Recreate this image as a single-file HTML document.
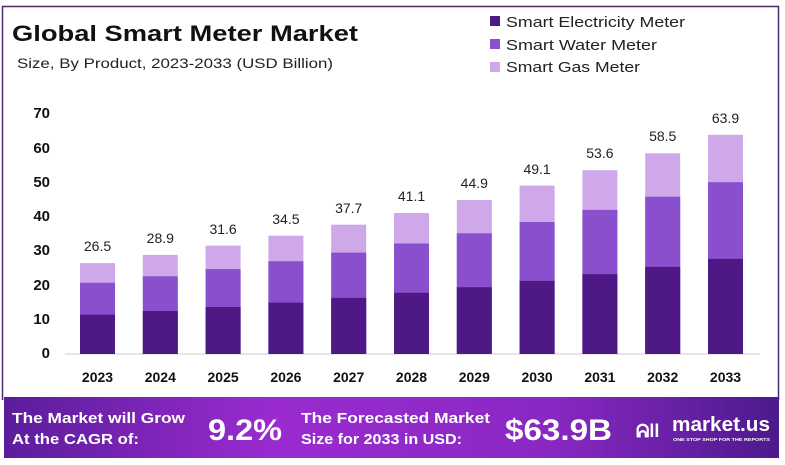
<!DOCTYPE html>
<html><head><meta charset="utf-8"><style>
body{margin:0;background:#fff;}
svg{display:block;font-family:"Liberation Sans",sans-serif;}
</style></head><body>
<svg width="785" height="465" viewBox="0 0 785 465" xmlns="http://www.w3.org/2000/svg">
<defs>
<linearGradient id="bg" x1="0" x2="1" y1="0" y2="0">
<stop offset="0" stop-color="#5b1d9c"/><stop offset="0.35" stop-color="#9a2bcf"/><stop offset="0.7" stop-color="#8a28c4"/><stop offset="1" stop-color="#4c1a8c"/>
</linearGradient>
</defs>
<rect width="785" height="465" fill="#fff"/>
<path d="M2.5 400 V6.5 H778.5 V400" fill="none" stroke="#4a2a6a" stroke-width="1.5"/>
<text x="12" y="41" font-size="22" font-weight="bold" fill="#111" textLength="346" lengthAdjust="spacingAndGlyphs">Global Smart Meter Market</text>
<text x="17" y="68" font-size="14" fill="#222" textLength="316" lengthAdjust="spacingAndGlyphs">Size, By Product, 2023-2033 (USD Billion)</text>
<rect x="490" y="16" width="10" height="10" fill="#4a1a85"/>
<text x="506" y="27" font-size="15" fill="#222" textLength="179" lengthAdjust="spacingAndGlyphs">Smart Electricity Meter</text>
<rect x="490" y="39" width="10" height="10" fill="#8a4fcc"/>
<text x="506" y="50" font-size="15" fill="#222" textLength="151" lengthAdjust="spacingAndGlyphs">Smart Water Meter</text>
<rect x="490" y="62" width="10" height="10" fill="#cfa8ea"/>
<text x="506" y="72" font-size="15" fill="#222" textLength="134" lengthAdjust="spacingAndGlyphs">Smart Gas Meter</text>
<g font-size="15" font-weight="bold" fill="#111" text-anchor="end">
<text x="50" y="358">0</text><text x="50" y="324">10</text><text x="50" y="290">20</text><text x="50" y="255">30</text><text x="50" y="221">40</text><text x="50" y="187">50</text><text x="50" y="153">60</text><text x="50" y="118">70</text>
</g>
<line x1="65" y1="354" x2="760" y2="354" stroke="#ccc" stroke-width="1"/>
<g fill="#cfa8ea">
<rect x="80" y="263.1" width="35" height="90.9"/>
<rect x="142.8" y="254.9" width="35" height="99.1"/>
<rect x="205.6" y="245.6" width="35" height="108.4"/>
<rect x="268.4" y="235.7" width="35" height="118.3"/>
<rect x="331.2" y="224.7" width="35" height="129.3"/>
<rect x="394" y="213" width="35" height="141"/>
<rect x="456.8" y="200" width="35" height="154"/>
<rect x="519.6" y="185.6" width="35" height="168.4"/>
<rect x="582.4" y="170.2" width="35" height="183.8"/>
<rect x="645.2" y="153.3" width="35" height="200.7"/>
<rect x="708" y="134.8" width="35" height="219.2"/>
</g>
<g fill="#8a4fcc">
<rect x="80" y="282.8" width="35" height="71.2"/>
<rect x="142.8" y="276.3" width="35" height="77.7"/>
<rect x="205.6" y="269.1" width="35" height="84.9"/>
<rect x="268.4" y="261.2" width="35" height="92.8"/>
<rect x="331.2" y="252.6" width="35" height="101.4"/>
<rect x="394" y="243.5" width="35" height="110.5"/>
<rect x="456.8" y="233.3" width="35" height="120.7"/>
<rect x="519.6" y="222" width="35" height="132"/>
<rect x="582.4" y="209.9" width="35" height="144.1"/>
<rect x="645.2" y="196.7" width="35" height="157.3"/>
<rect x="708" y="182.2" width="35" height="171.8"/>
</g>
<g fill="#4e1985">
<rect x="80" y="314.6" width="35" height="39.4"/>
<rect x="142.8" y="311" width="35" height="43"/>
<rect x="205.6" y="307" width="35" height="47"/>
<rect x="268.4" y="302.6" width="35" height="51.4"/>
<rect x="331.2" y="297.9" width="35" height="56.1"/>
<rect x="394" y="292.8" width="35" height="61.2"/>
<rect x="456.8" y="287.2" width="35" height="66.8"/>
<rect x="519.6" y="280.9" width="35" height="73.1"/>
<rect x="582.4" y="274.2" width="35" height="79.8"/>
<rect x="645.2" y="266.9" width="35" height="87.1"/>
<rect x="708" y="258.9" width="35" height="95.1"/>
</g>
<g font-size="14" fill="#222" text-anchor="middle">
<text x="97.5" y="251">26.5</text>
<text x="160.3" y="243">28.9</text>
<text x="223.1" y="234">31.6</text>
<text x="285.9" y="224">34.5</text>
<text x="348.7" y="213">37.7</text>
<text x="411.5" y="201">41.1</text>
<text x="474.3" y="188">44.9</text>
<text x="537.1" y="174">49.1</text>
<text x="599.9" y="158">53.6</text>
<text x="662.7" y="141">58.5</text>
<text x="725.5" y="123">63.9</text>
</g>
<g font-size="14" font-weight="bold" fill="#111" text-anchor="middle">
<text x="97.5" y="382">2023</text>
<text x="160.3" y="382">2024</text>
<text x="223.1" y="382">2025</text>
<text x="285.9" y="382">2026</text>
<text x="348.7" y="382">2027</text>
<text x="411.5" y="382">2028</text>
<text x="474.3" y="382">2029</text>
<text x="537.1" y="382">2030</text>
<text x="599.9" y="382">2031</text>
<text x="662.7" y="382">2032</text>
<text x="725.5" y="382">2033</text>
</g>
<rect x="4" y="397" width="775" height="61" fill="url(#bg)"/>
<g fill="#fff" font-weight="bold">
<text x="12" y="423" font-size="15" textLength="173" lengthAdjust="spacingAndGlyphs">The Market will Grow</text>
<text x="12" y="444" font-size="15" textLength="127" lengthAdjust="spacingAndGlyphs">At the CAGR of:</text>
<text x="208" y="440" font-size="30" textLength="74" lengthAdjust="spacingAndGlyphs">9.2%</text>
<text x="301" y="423" font-size="15" textLength="189" lengthAdjust="spacingAndGlyphs">The Forecasted Market</text>
<text x="301" y="444" font-size="15" textLength="161" lengthAdjust="spacingAndGlyphs">Size for 2033 in USD:</text>
<text x="505" y="440" font-size="30" textLength="107" lengthAdjust="spacingAndGlyphs">$63.9B</text>
<text x="636" y="437" font-size="18">ᕱll</text>
<text x="672" y="431" font-size="20" textLength="98" lengthAdjust="spacingAndGlyphs">market.us</text>
<text x="673" y="441" font-size="4.5" textLength="97" lengthAdjust="spacingAndGlyphs">ONE STOP SHOP FOR THE REPORTS</text>
</g>
</svg>
</body></html>
